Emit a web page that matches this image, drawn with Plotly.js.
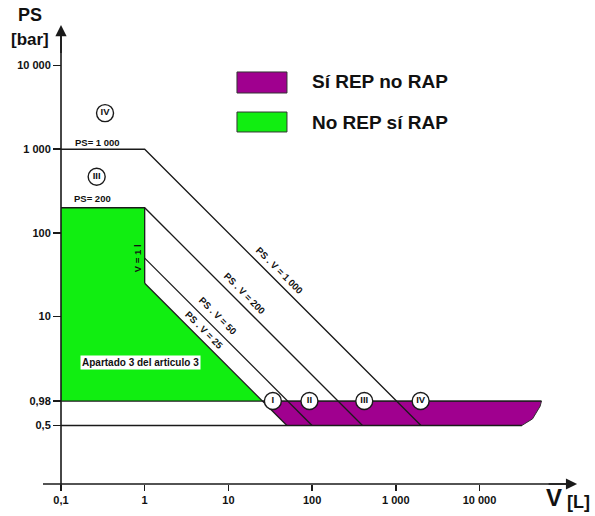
<!DOCTYPE html>
<html>
<head>
<meta charset="utf-8">
<script src="https://cdn.plot.ly/plotly-3.0.1.min.js"></script>
<style>html,body{margin:0;padding:0;background:#fff;}#chart{width:595px;height:516px;}</style>
</head>
<body>
<div id="chart"></div>
<script>
// ---- data ----
const xTickVals = [0.1, 1, 10, 100, 1000, 10000];
const xTickText = ['0,1', '1', '10', '100', '1 000', '10 000'];
const yTickVals = [0.5, 0.98, 10, 100, 1000, 10000];
const yTickText = ['0,5', '0,98', '10', '100', '1 000', '10 000'];

// PS = 1000 then PS·V = 1000
const line1000V = [0.1, 1, 2000];
const line1000PS = [1000, 1000, 0.5];
// PS = 200 then PS·V = 200
const line200V = [0.1, 1, 400];
const line200PS = [200, 200, 0.5];
// V = 1 l
const lineV1V = [1, 1];
const lineV1PS = [200, 25];
// PS·V = 50
const line50V = [1, 100];
const line50PS = [50, 0.5];
// PS·V = 25
const line25V = [1, 50];
const line25PS = [25, 0.5];
// PS = 0.98 and PS = 0.5
const line098V = [0.1, 55000];
const line098PS = [0.98, 0.98];
const line05V = [0.1, 32000];
const line05PS = [0.5, 0.5];

// "No REP sí RAP" region
const greenV = [0.1, 1, 1, 25.5, 0.1];
const greenPS = [200, 200, 25, 0.98, 0.98];
// "Sí REP no RAP" region
const purpleV = [25.5, 55000, 53000, 49000, 43000, 32000, 50];
const purplePS = [0.98, 0.98, 0.85, 0.74, 0.6, 0.5, 0.5];

// category circles
const catText = ['I', 'II', 'III', 'IV', 'III', 'IV'];
const catV = [34, 93, 420, 1980, 0.267, 0.336];
const catPS = [0.98, 0.98, 0.98, 0.98, 469, 2700];

const legendNames = ['Sí REP no RAP', 'No REP sí RAP'];
const regionColors = ['#a0008f', '#11ee11'];

// ---- chart ----
const lg = Math.log10;
const FONT = 'Liberation Sans, Arial, sans-serif';
const INK = '#1a1a1a';
const lineStyle = {color: INK, width: 1.3};

function lineTrace(x, y) {
  return {x: x, y: y, type: 'scatter', mode: 'lines', line: lineStyle, hoverinfo: 'skip'};
}

const traces = [
  {x: greenV, y: greenPS, type: 'scatter', mode: 'lines', fill: 'toself',
   fillcolor: regionColors[1], line: {width: 0}, hoverinfo: 'skip'},
  {x: purpleV, y: purplePS, type: 'scatter', mode: 'lines', fill: 'toself',
   fillcolor: regionColors[0], line: {color: '#333', width: 1}, hoverinfo: 'skip'},
  lineTrace(line1000V, line1000PS),
  lineTrace(line200V, line200PS),
  lineTrace(lineV1V, lineV1PS),
  lineTrace(line50V, line50PS),
  lineTrace(line25V, line25PS),
  lineTrace(line098V, line098PS),
  lineTrace(line05V, line05PS),
  {x: catV, y: catPS, type: 'scatter', mode: 'markers+text',
   text: catText.map(t => '<b>' + t + '</b>'), textposition: 'middle center',
   textfont: {family: FONT, size: 9.5, color: '#111'},
   marker: {size: 17, color: '#fff', line: {color: INK, width: 1.4}},
   hoverinfo: 'skip', cliponaxis: false}
];

function lbl(text, V, PS, angle, size, extra) {
  return Object.assign({
    text: '<b>' + text + '</b>', x: lg(V), y: lg(PS), xref: 'x', yref: 'y',
    xanchor: 'center', yanchor: 'middle',
    showarrow: false, textangle: angle || 0,
    font: {family: FONT, size: size || 9.5, color: '#111'}
  }, extra || {});
}

function paperText(text, x, y, size, xanchor) {
  return {text: '<b>' + text + '</b>', xref: 'paper', yref: 'paper', x: x, y: y,
    xanchor: xanchor || 'center', yanchor: 'middle', showarrow: false,
    font: {family: FONT, size: size, color: '#111'}};
}

const annotations = [
  // axis arrowheads
  {x: 0.05536, y: 0.9896, xref: 'paper', yref: 'paper',
   text: ' ', font: {size: 1}, showarrow: true,
   ax: 0, ay: 30, arrowhead: 2, arrowsize: 1.4, arrowwidth: 1.6, arrowcolor: INK, standoff: 0},
  {x: 0.977, y: 0.0333, xref: 'paper', yref: 'paper',
   text: ' ', font: {size: 1}, showarrow: true,
   ax: -30, ay: 0, arrowhead: 2, arrowsize: 1.4, arrowwidth: 1.6, arrowcolor: INK, standoff: 0},
  // axis titles
  paperText('PS', 0, 1.0104, 18),
  paperText('[bar]', 0, 0.960, 17),
  paperText('V', 0.9357, 0.006, 24),
  paperText('[L]', 0.9786, -0.004, 18),
  // legend texts
  paperText(legendNames[0], 0.5, 0.871, 19, 'left'),
  paperText(legendNames[1], 0.5, 0.7875, 19, 'left'),
  // line labels
  lbl('PS= 1 000', 0.27, 1190),
  lbl('PS= 200', 0.24, 260),
  lbl('V = 1 l', 0.81, 50, -90),
  lbl('PS . V = 1 000', 41.3, 36, 45),
  lbl('PS . V = 200', 15.8, 19.1, 45),
  lbl('PS . V = 50', 7.5, 10.4, 45),
  lbl('PS . V = 25', 5.25, 6.9, 45),
  lbl('Apartado 3 del articulo 3', 0.88, 2.8, 0, 10, {bgcolor: '#fff', borderpad: 1})
];

const shapes = [
  // axis lines
  {type: 'line', xref: 'paper', yref: 'paper', x0: 0.05536, x1: 0.05536, y0: 0.025, y1: 0.975,
   line: {color: INK, width: 1.6}},
  {type: 'line', xref: 'paper', yref: 'paper', x0: 0.0232, x1: 0.965, y0: 0.0333, y1: 0.0333,
   line: {color: INK, width: 1.6}},
  // legend swatches
  {type: 'rect', xref: 'paper', yref: 'paper', x0: 0.3696, x1: 0.4589, y0: 0.8479, y1: 0.8917,
   fillcolor: regionColors[0], line: {color: '#333', width: 1}},
  {type: 'rect', xref: 'paper', yref: 'paper', x0: 0.3696, x1: 0.4589, y0: 0.7667, y1: 0.8083,
   fillcolor: regionColors[1], line: {color: '#333', width: 1}}
];

const axisCommon = {
  type: 'log', tickmode: 'array', ticks: 'outside', tickwidth: 1.5,
  tickcolor: INK, showline: false, showgrid: false, zeroline: false,
  anchor: 'free', automargin: false,
  tickfont: {family: FONT, size: 11, color: '#111'}, fixedrange: true
};

const layout = {
  width: 595, height: 516,
  margin: {l: 30, r: 5, t: 20, b: 16, pad: 0},
  paper_bgcolor: '#fff', plot_bgcolor: '#fff',
  showlegend: false, hovermode: false,
  xaxis: Object.assign({}, axisCommon, {
    range: [-1.370, 5.320], tickvals: xTickVals, ticklen: 6,
    ticktext: xTickText.map(t => '<b>' + t + '</b>'), position: 0.0333
  }),
  yaxis: Object.assign({}, axisCommon, {
    range: [-1.191, 4.544], tickvals: yTickVals, ticklen: 8,
    ticktext: yTickText.map(t => '<b>' + t + '</b>'), position: 0.05536
  }),
  annotations: annotations,
  shapes: shapes
};

Plotly.newPlot('chart', traces, layout, {staticPlot: true, displayModeBar: false});
</script>
</body>
</html>
